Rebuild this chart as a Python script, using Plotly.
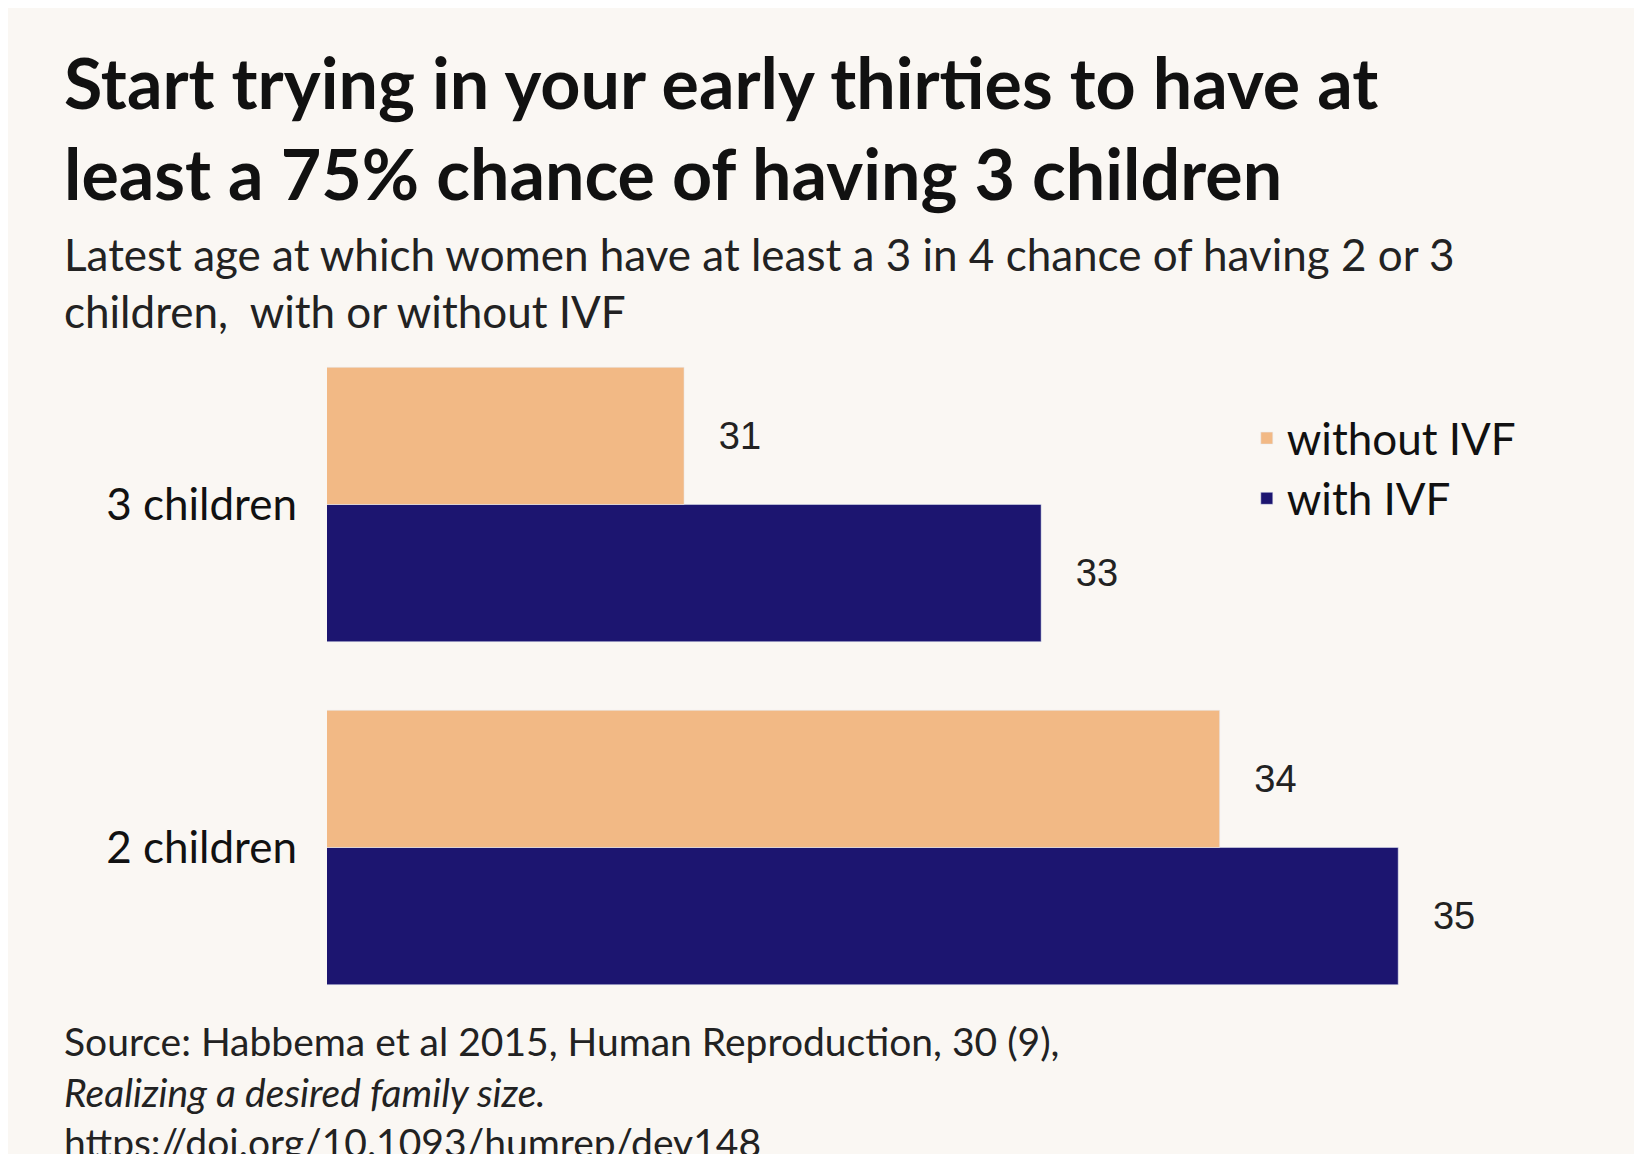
import plotly.graph_objects as go

categories = ["2 children", "3 children"]
without_ivf = [34, 31]
with_ivf = [35, 33]

bg = "#FAF7F3"
L, T, B, R = 319, 325, 143, 9
PH = 1154 - T - B
PW = 1642 - L - R

fig = go.Figure()
for name, vals, col, grp in [("with IVF", with_ivf, "#1C1570", "a"),
                             ("without IVF", without_ivf, "#F2B985", "b")]:
    fig.add_trace(go.Bar(y=categories, x=vals, orientation="h", name=name,
                         marker_color=col, text=vals, texttemplate="   %{x}",
                         textposition="outside",
                         textfont=dict(size=38, color="#222", family="Liberation Sans"),
                         legendgroup=grp, cliponaxis=False))

fig.update_layout(
    width=1642, height=1154, paper_bgcolor=bg, plot_bgcolor=bg,
    barmode="group", bargap=0.2, bargroupgap=0,
    margin=dict(l=L, r=R, t=T, b=B),
    font=dict(family="Lato", color="#111"),
    xaxis=dict(range=[29, 36.36], visible=False, showgrid=False),
    yaxis=dict(range=[-0.5, 1.5], showgrid=False, showline=False, ticks="",
               tickfont=dict(size=44, color="#111"), ticklabelstandoff=29),
    legend=dict(x=0.70, y=1 - (395 - T) / PH, xanchor="left", yanchor="top",
                traceorder="reversed", font=dict(size=44, color="#111"),
                tracegroupgap=78, bgcolor="rgba(0,0,0,0)"),
    showlegend=True,
)
xl = -(L - 54) / PW
fig.add_annotation(text="<b>Start trying in your early thirties to have at<br>least a 75% chance of having 3 children</b>",
                   xref="paper", yref="paper", xanchor="left", yanchor="top", align="left",
                   x=xl, y=1 + (T - 30) / PH, showarrow=False,
                   font=dict(size=70, color="#111", family="Lato"))
fig.add_annotation(text="Latest age at which women have at least a 3 in 4 chance of having 2 or 3<br>children,  with or without IVF",
                   xref="paper", yref="paper", xanchor="left", yanchor="top", align="left",
                   x=xl, y=1 + (T - 218) / PH, showarrow=False,
                   font=dict(size=44, color="#222"))
fig.add_annotation(text="Source: Habbema et al 2015, Human Reproduction, 30 (9),<br><i>Realizing a desired family size.</i><br>https://doi.org/10.1093/humrep/dev148",
                   xref="paper", yref="paper", xanchor="left", yanchor="top", align="left",
                   x=xl, y=-(1008 - (T + PH)) / PH, showarrow=False,
                   font=dict(size=39, color="#222"))
fig.write_html("out.html")
